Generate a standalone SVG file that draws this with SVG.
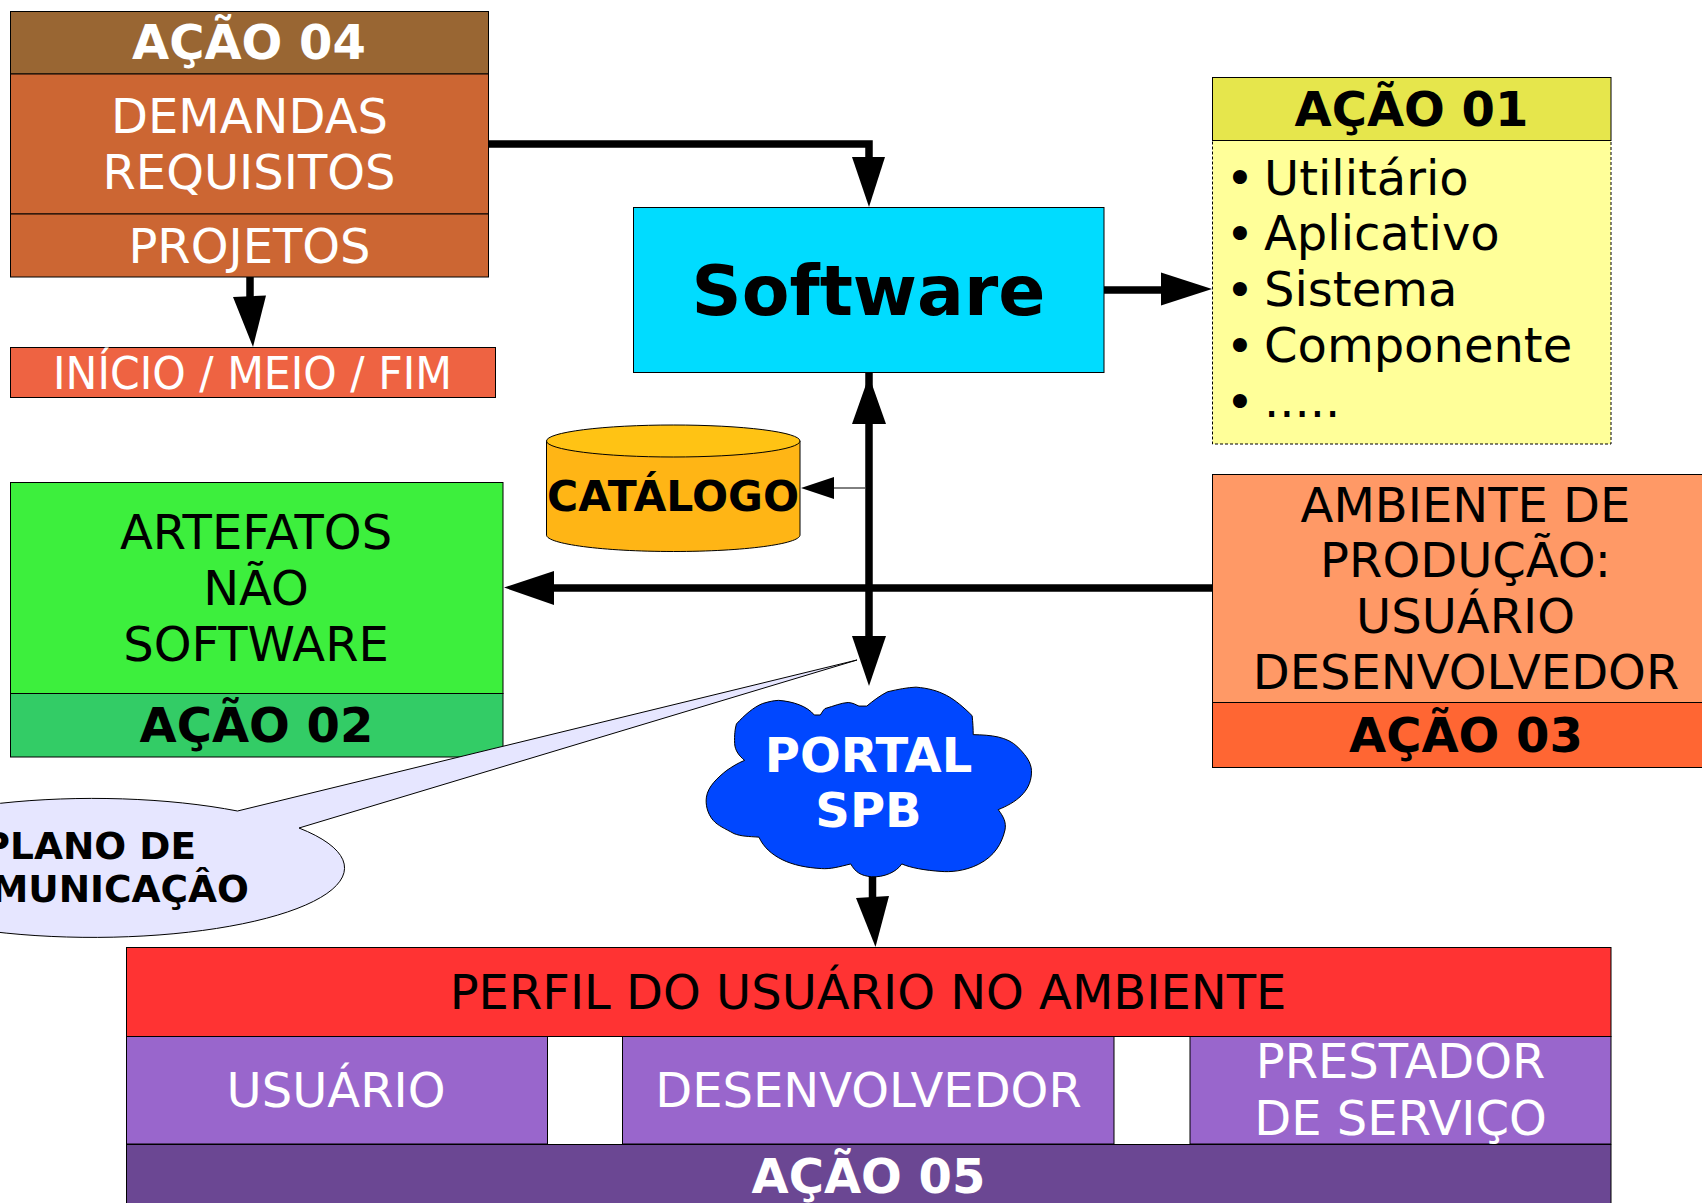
<svg xmlns="http://www.w3.org/2000/svg" width="1702" height="1203" viewBox="0 0 1702 1203">
<style>
text{font-family:"DejaVu Sans",sans-serif;font-size:48px;text-anchor:middle;fill:#000}
.b{font-weight:bold}
.w{fill:#fff}
rect,.s{stroke:#000;stroke-width:1}
.l{fill:none;stroke:#000;stroke-width:7.5}
.h{fill:#000;stroke:none}
</style>
<g id="connectors">
<path class="l" d="M489 144H869V170"/>
<polygon class="h" points="852,157 885,157 869,207"/>
<path class="l" d="M250 277V305"/>
<polygon class="h" points="233,297 266,295.500 253,347"/>
<path class="l" d="M1104 290H1170"/>
<polygon class="h" points="1161,272.500 1212,289 1161,305.500"/>
<path class="l" d="M869 373V650"/>
<polygon class="h" points="869,376 886,424 852,424"/>
<polygon class="h" points="852,636 886,636 869,686"/>
<path d="M865 488H820" fill="none" stroke="#000" stroke-width="1"/>
<polygon class="h" points="801,488 834,477 834,499"/>
<path class="l" d="M1212 588H540"/>
<polygon class="h" points="504,587.500 554,571 554,605"/>
<path class="l" d="M872.500 870V905"/>
<polygon class="h" points="856,898 889,896 875.500,947"/>
</g>
<g id="acao04">
<rect x="10.500" y="11.500" width="478" height="62.500" fill="#996633"/>
<rect x="10.500" y="74" width="478" height="140" fill="#cc6633"/>
<rect x="10.500" y="214" width="478" height="63" fill="#cc6633"/>
<text class="b w" x="249" y="59">AÇÃO 04</text>
<text class="w" x="249.500" y="132.500">DEMANDAS</text>
<text class="w" x="249" y="189">REQUISITOS</text>
<text class="w" x="249.500" y="263">PROJETOS</text>
</g>
<g id="inicio">
<rect x="10.500" y="347.500" width="485" height="50" fill="#ee6342"/>
<text class="w" x="252.500" y="388.500" style="font-size:44px" textLength="399" lengthAdjust="spacingAndGlyphs">INÍCIO / MEIO / FIM</text>
</g>
<g id="software">
<rect x="633.500" y="207.500" width="470.500" height="165" fill="#00dcff"/>
<text class="b" x="868.500" y="314.500" style="font-size:69.500px">Software</text>
</g>
<g id="acao01">
<rect x="1212.500" y="140.500" width="398.500" height="303.500" fill="#ffff99" stroke-dasharray="3 2"/>
<rect x="1212.500" y="77.500" width="398.500" height="63" fill="#e6e64c"/>
<text class="b" x="1411.500" y="125.500">AÇÃO 01</text>
<text x="1240" y="195" fill="#1c1c1c">•</text>
<text x="1240" y="251" fill="#1c1c1c">•</text>
<text x="1240" y="307" fill="#1c1c1c">•</text>
<text x="1240" y="362.500" fill="#1c1c1c">•</text>
<text x="1240" y="418.500" fill="#1c1c1c">•</text>
<text x="1264" y="195" style="text-anchor:start">Utilitário</text>
<text x="1264" y="250" style="text-anchor:start">Aplicativo</text>
<text x="1264" y="306" style="text-anchor:start">Sistema</text>
<text x="1264" y="361.500" style="text-anchor:start">Componente</text>
<text x="1264" y="416.500" style="text-anchor:start">.....</text>
</g>
<g id="catalogo">
<path class="s" d="M546.500 441V535C546.500 544 603 551.500 673.500 551.500S800 544 800 535V441Z" fill="#ffb515"/>
<ellipse class="s" cx="673.250" cy="441" rx="126.750" ry="16" fill="#ffc314"/>
<text class="b" x="673" y="510.500" style="font-size:42px" textLength="252" lengthAdjust="spacingAndGlyphs">CATÁLOGO</text>
</g>
<g id="acao02">
<rect x="10.500" y="482.500" width="492.500" height="211" fill="#3def3d"/>
<rect x="10.500" y="693.500" width="492.500" height="63.500" fill="#33cc66"/>
<text x="256" y="549">ARTEFATOS</text>
<text x="256" y="605">NÃO</text>
<text x="256" y="660.500">SOFTWARE</text>
<text class="b" x="256.500" y="741.500">AÇÃO 02</text>
</g>
<g id="acao03">
<rect x="1212.500" y="474.500" width="500" height="228" fill="#ff9966"/>
<rect x="1212.500" y="702.500" width="500" height="65" fill="#ff6633"/>
<text x="1465.500" y="521.500">AMBIENTE DE</text>
<text x="1465.500" y="576.500">PRODUÇÃO:</text>
<text x="1465.500" y="632.500">USUÁRIO</text>
<text x="1466" y="688.500">DESENVOLVEDOR</text>
<text class="b" x="1466" y="752">AÇÃO 03</text>
</g>
<g id="plano">
<path class="s" d="M857 660L299 828A251.500 69.500 0 1 1 237.500 811Z" fill="#e6e6ff"/>
<text class="b" x="196" y="859" style="font-size:37.500px;text-anchor:end">PLANO DE</text>
<text class="b" x="249" y="902" style="font-size:37.500px;text-anchor:end">COMUNICAÇÂO</text>
</g>
<g id="portal">
<path transform="translate(500 340) scale(.35714)" vector-effect="non-scaling-stroke" class="s" fill="#0047ff" d="M1325 1105C1375 1106 1420 1110 1450 1140S1490 1190 1488 1215C1485 1265 1445 1295 1395 1315C1410 1335 1418 1350 1414 1372C1405 1410 1385 1445 1340 1468C1300 1488 1260 1490 1235 1488C1190 1485 1150 1478 1125 1467C1110 1490 1075 1505 1040 1503C1010 1500 995 1490 982 1467C950 1475 925 1482 900 1480C860 1478 820 1470 790 1455C760 1440 738 1420 725 1392C695 1390 675 1390 655 1382C630 1368 610 1360 597 1345C580 1325 575 1300 578 1280C582 1250 610 1225 635 1205C650 1195 665 1185 685 1177C670 1165 658 1150 657 1130C656 1105 658 1090 662 1075C685 1050 710 1028 735 1018C755 1012 765 1010 780 1009C820 1012 860 1025 880 1050H897C903 1040 905 1037 910 1032C935 1025 955 1016 975 1015C990 1016 997 1022 1005 1025H1027C1045 1010 1065 995 1085 985C1115 978 1140 973 1165 972C1200 975 1225 982 1250 995C1275 1008 1300 1030 1322 1052C1324 1070 1325 1090 1325 1105Z"/>
<text class="b w" x="868.500" y="772">PORTAL</text>
<text class="b w" x="868.500" y="827">SPB</text>
</g>
<g id="perfil">
<rect x="126.500" y="947.500" width="1484.500" height="89" fill="#ff3333"/>
<text x="868" y="1009">PERFIL DO USUÁRIO NO AMBIENTE</text>
</g>
<g id="usuario">
<rect x="126.500" y="1036.500" width="421" height="107.500" fill="#9966cc"/>
<text class="w" x="336" y="1107">USUÁRIO</text>
</g>
<g id="desenvolvedor">
<rect x="622.500" y="1036.500" width="491.500" height="107.500" fill="#9966cc"/>
<text class="w" x="868.500" y="1107">DESENVOLVEDOR</text>
</g>
<g id="prestador">
<rect x="1190" y="1036.500" width="421" height="107.500" fill="#9966cc"/>
<text class="w" x="1400.500" y="1078">PRESTADOR</text>
<text class="w" x="1400.500" y="1134.500">DE SERVIÇO</text>
</g>
<g id="acao05">
<rect x="126.500" y="1144.500" width="1484.500" height="70" fill="#6b4793"/>
<text class="b w" x="868.500" y="1192.500">AÇÃO 05</text>
</g>
</svg>
